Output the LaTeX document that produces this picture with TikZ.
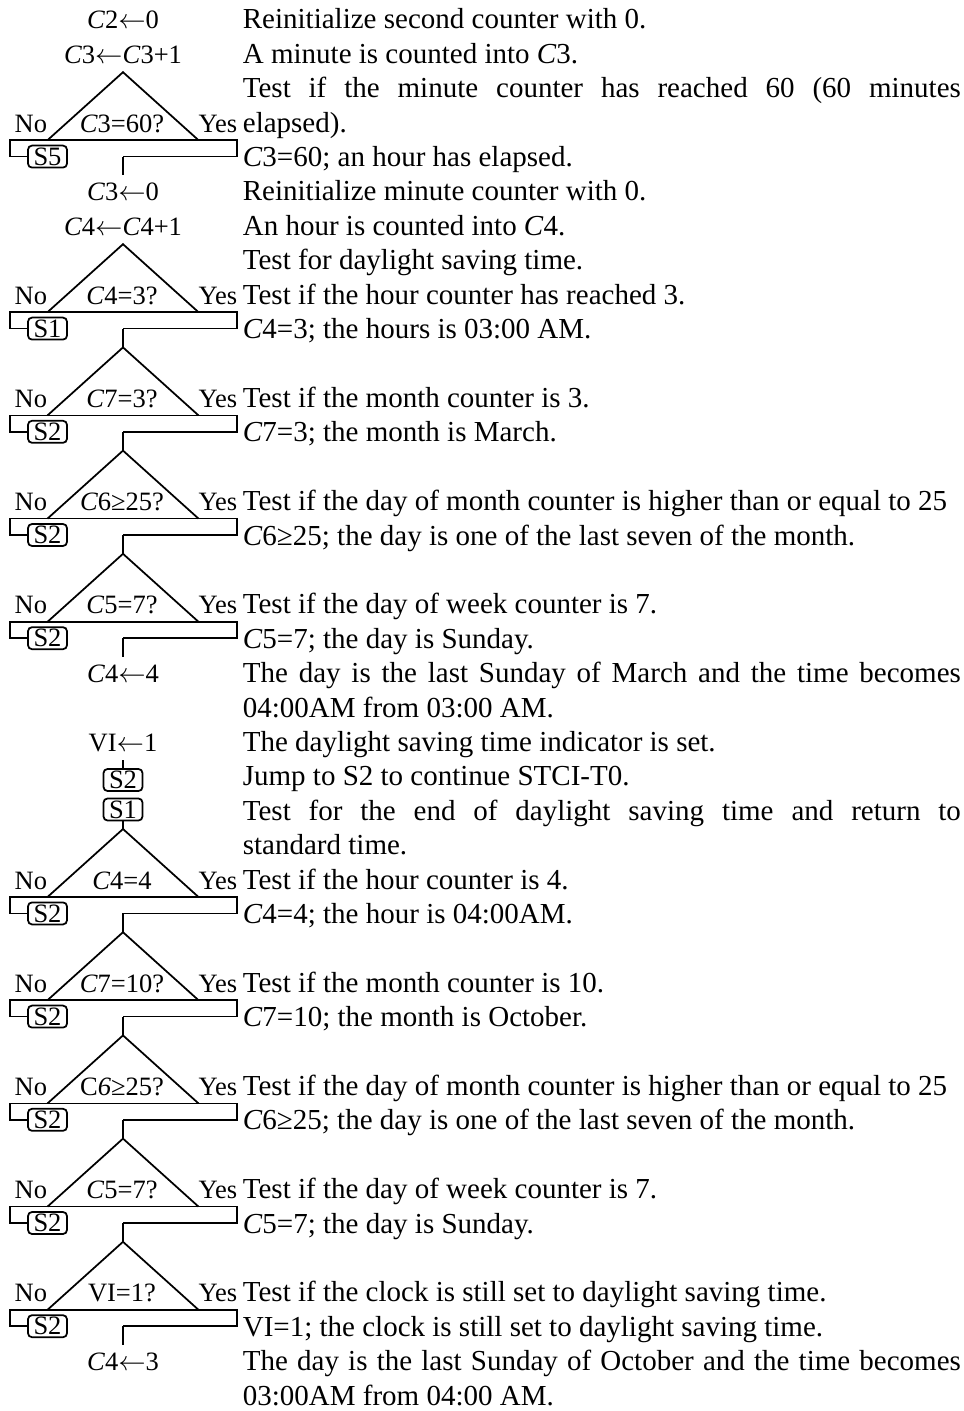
\documentclass[tikz,border=0pt]{standalone}
\usepackage{fontspec}
\setmainfont{Liberation Serif}
\tolerance=10000
\hbadness=10000

\begin{document}
\begin{tikzpicture}[
    x=0.4pt, y=-0.4pt,
    line width=0.7pt,
    font=\fontsize{11.6}{13.76}\selectfont,
    lbl/.style={font=\fontsize{10.6}{12}\selectfont, inner sep=0pt},
    op/.style={lbl, anchor=base, text height=8pt, text depth=1.2pt, inner ysep=2pt},
    cond/.style={lbl, anchor=base},
    no/.style={lbl, anchor=base east},
    yes/.style={lbl, anchor=base east},
    jmp/.style={lbl, draw, rounded corners=1.6pt, minimum width=15.6pt,
      minimum height=8.8pt, text height=7pt, text depth=0pt},
    txt/.style={anchor=base west, inner sep=0pt},
    para/.style={txt, text width=287.2pt, align=justify}
  ]
    \useasboundingbox (0,0) rectangle (964,1411);

    % flow column
    \node[op] (op1) at (123,29) {\textit{C}2$\leftarrow$0};
    \node[op] (op2) at (123,63.4) {\textit{C}3$\leftarrow$\textit{C}3+1};
    \node[op] (op6) at (123,201) {\textit{C}3$\leftarrow$0};
    \node[op] (op7) at (123,235.4) {\textit{C}4$\leftarrow$\textit{C}4+1};
    \node[op] (op20) at (123,682.6) {\textit{C}4$\leftarrow$4};
    \node[op] (op22) at (123,751.4) {VI$\leftarrow$1};
    \node[jmp] (go23) at (123,780) {S2};
    \node[jmp] (go24) at (123,809.5) {S1};
    \node[op] (op40) at (123,1370.6) {\textit{C}4$\leftarrow$3};

    % decisions: line, baseline, test, jump target
    \foreach \n/\b/\c/\j in {
        4/132.2/{\textit{C}3=60?}/S5,
        9/304.2/{\textit{C}4=3?}/S1,
        12/407.4/{\textit{C}7=3?}/S2,
        15/510.6/{\textit{C}6≥25?}/S2,
        18/613.8/{\textit{C}5=7?}/S2,
        26/889/{\textit{C}4=4}/S2,
        29/992.2/{\textit{C}7=10?}/S2,
        32/1095.4/{C\textit{6}≥25?}/S2,
        35/1198.6/{\textit{C}5=7?}/S2,
        38/1301.8/{VI=1?}/S2}{
      \coordinate (top\n) at (123,{\b-60});
      \coordinate (out\n) at (123,{\b+24.4});
      \node[cond] (cond\n) at (122,\b) {\c};
      \node[no] (no\n) at (48,\b) {No};
      \node[yes] (yes\n) at (238,\b) {Yes};
      \node[jmp] (jmp\n) at (47.5,{\b+24.4}) {\j};
      \draw (47.5,{\b+8}) -- (top\n) -- (198.5,{\b+8});
      \draw (jmp\n) -| (10,{\b+8}) -- (237,{\b+8}) |- (out\n);
    }

    \draw (out4) -- (op6.north);
    \draw (out9) -- (top12);
    \draw (out12) -- (top15);
    \draw (out15) -- (top18);
    \draw (out18) -- (op20.north);
    \draw (op22) -- (go23);
    \draw (go24) -- (top26);
    \draw (out26) -- (top29);
    \draw (out29) -- (top32);
    \draw (out32) -- (top35);
    \draw (out35) -- (top38);
    \draw (out38) -- (op40.north);

    % comments column
    \node[txt] (t1) at (242,29) {Reinitialize second counter with 0.};
    \node[txt] (t2) at (242,63.4) {A minute is counted into \textit{C}3.};
    \node[para] (t3) at (242,97.8) {Test if the minute counter has reached 60 (60 minutes\linebreak elapsed).};
    \node[txt] (t5) at (242,166.6) {\textit{C}3=60; an hour has elapsed.};
    \node[txt] (t6) at (242,201) {Reinitialize minute counter with 0.};
    \node[txt] (t7) at (242,235.4) {An hour is counted into \textit{C}4.};
    \node[txt] (t8) at (242,269.8) {Test for daylight saving time.};
    \node[txt] (t9) at (242,304.2) {Test if the hour counter has reached 3.};
    \node[txt] (t10) at (242,338.6) {\textit{C}4=3; the hours is 03:00 AM.};
    \node[txt] (t12) at (242,407.4) {Test if the month counter is 3.};
    \node[txt] (t13) at (242,441.8) {\textit{C}7=3; the month is March.};
    \node[txt] (t15) at (242,510.6) {Test if the day of month counter is higher than or equal to 25};
    \node[txt] (t16) at (242,545) {\textit{C}6≥25; the day is one of the last seven of the month.};
    \node[txt] (t18) at (242,613.8) {Test if the day of week counter is 7.};
    \node[txt] (t19) at (242,648.2) {\textit{C}5=7; the day is Sunday.};
    \node[para] (t20) at (242,682.6) {The day is the last Sunday of March and the time becomes\linebreak 04:00AM from 03:00 AM.};
    \node[txt] (t22) at (242,751.4) {The daylight saving time indicator is set.};
    \node[txt] (t23) at (242,785.8) {Jump to S2 to continue STCI-T0.};
    \node[para] (t24) at (242,820.2) {Test for the end of daylight saving time and return to\linebreak standard time.};
    \node[txt] (t26) at (242,889) {Test if the hour counter is 4.};
    \node[txt] (t27) at (242,923.4) {\textit{C}4=4; the hour is 04:00AM.};
    \node[txt] (t29) at (242,992.2) {Test if the month counter is 10.};
    \node[txt] (t30) at (242,1026.6) {\textit{C}7=10; the month is October.};
    \node[txt] (t32) at (242,1095.4) {Test if the day of month counter is higher than or equal to 25};
    \node[txt] (t33) at (242,1129.8) {\textit{C}6≥25; the day is one of the last seven of the month.};
    \node[txt] (t35) at (242,1198.6) {Test if the day of week counter is 7.};
    \node[txt] (t36) at (242,1233) {\textit{C}5=7; the day is Sunday.};
    \node[txt] (t38) at (242,1301.8) {Test if the clock is still set to daylight saving time.};
    \node[txt] (t39) at (242,1336.2) {VI=1; the clock is still set to daylight saving time.};
    \node[para] (t40) at (242,1370.6) {The day is the last Sunday of October and the time becomes\linebreak 03:00AM from 04:00 AM.};
  \end{tikzpicture}
\end{document}
